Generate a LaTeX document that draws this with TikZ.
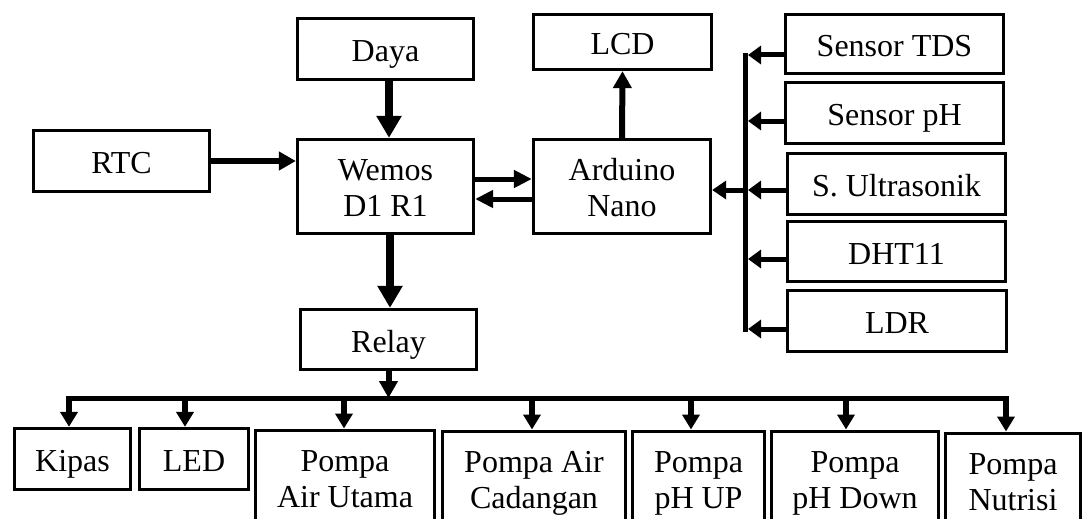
\documentclass[tikz,border=0pt]{standalone}
\usepackage{fontspec}
\setmainfont{Liberation Serif}
\usetikzlibrary{arrows.meta}
\begin{document}
\begin{tikzpicture}[x=1pt,y=-1pt,
  box/.style={draw,line width=3.3pt,inner sep=0pt,font=\fontsize{32}{36}\selectfont,text height=25pt,text depth=0pt},
  two/.style={text height=23pt,text depth=36pt},
  pump/.style={box,two,anchor=north,minimum height=95pt},
  athick/.style={line width=8pt,-{Triangle[length=22pt,width=24pt]}},
  amid/.style={line width=6pt,-{Triangle[length=17pt,width=18pt]}},
  athin/.style={line width=5pt,-{Triangle[length=18pt,width=17pt]}},
  asens/.style={line width=5pt,-{Triangle[length=13pt,width=18pt]}},
  adrop/.style={line width=6pt,-{Triangle[length=15pt,width=17pt]}},
  busline/.style={line width=5pt}
]
\useasboundingbox (0,0) rectangle (1089,519);
\clip (0,0) rectangle (1089,519);

% top row
\node[box,minimum width=176pt,minimum height=61pt] (daya) at (385.5,49) {Daya};
\node[box,minimum width=176pt,minimum height=61pt] (rtc) at (121.5,161) {RTC};
\node[box,two,minimum width=176pt,minimum height=94pt] (wemos) at (385.5,186.5)
  {\begin{tabular}[t]{@{}c@{}}Wemos\\D1 R1\end{tabular}};
\node[box,minimum width=178pt,minimum height=55pt] (lcd) at (622.5,42) {LCD};
\node[box,two,minimum width=177pt,minimum height=94pt] (nano) at (622,186.5)
  {\begin{tabular}[t]{@{}c@{}}Arduino\\Nano\end{tabular}};

% sensors
\node[box,minimum width=218pt,minimum height=59pt] (tds) at (894.5,44) {Sensor TDS};
\node[box,minimum width=218pt,minimum height=61pt] (ph) at (894.5,113) {Sensor pH};
\node[box,minimum width=218pt,minimum height=61pt] (ultra) at (896.5,184) {S. Ultrasonik};
\node[box,minimum width=218pt,minimum height=60pt] (dht) at (896.5,251.5) {DHT11};
\node[box,minimum width=219pt,minimum height=61pt] (ldr) at (897,321) {LDR};

% relay and outputs
\node[box,minimum width=176pt,minimum height=60pt] (relay) at (388.5,339.5) {Relay};
\node[box,minimum width=116pt,minimum height=61pt] (kipas) at (72.5,459) {Kipas};
\node[box,minimum width=109pt,minimum height=61pt] (led) at (194,459) {LED};
\node[pump,minimum width=179pt] (utama) at (345,428.5)
  {\begin{tabular}[t]{@{}c@{}}Pompa\\Air Utama\end{tabular}};
\node[pump,minimum width=183pt] (cadangan) at (534,429.5)
  {\begin{tabular}[t]{@{}c@{}}Pompa Air\\Cadangan\end{tabular}};
\node[pump,minimum width=132pt] (phup) at (698.5,429.5)
  {\begin{tabular}[t]{@{}c@{}}Pompa\\pH UP\end{tabular}};
\node[pump,minimum width=167pt] (phdown) at (855,429.5)
  {\begin{tabular}[t]{@{}c@{}}Pompa\\pH Down\end{tabular}};
\node[pump,minimum width=135pt] (nutrisi) at (1013,431.5)
  {\begin{tabular}[t]{@{}c@{}}Pompa\\Nutrisi\end{tabular}};

% connectors: top part
\draw[amid] (rtc.east) -- (rtc.east -| wemos.west);
\draw[athick] ([xshift=3.5pt]daya.south) -- ([xshift=3.5pt]wemos.north);
\draw[athick] ([xshift=4.5pt]wemos.south) -- ([xshift=1.5pt]relay.north);
\draw[athin] ([yshift=7.5pt]wemos.east) -- ([yshift=7.5pt]nano.west);
\draw[athin] ([yshift=-12.5pt]nano.west) -- ([yshift=-12.5pt]wemos.east);
\draw[amid] (nano.north) -- (lcd.south);

% sensor bus
\coordinate (sbt) at (745,53);
\coordinate (sbb) at (745,331.5);
\coordinate (sbh) at (748,0);
\coordinate (sbu) at (745,190);
\draw[busline] (sbt) -- (sbb);
\coordinate (s1) at ([yshift=-11pt]tds.west);
\coordinate (s2) at ([yshift=-8pt]ph.west);
\coordinate (s3) at ([yshift=-6pt]ultra.west);
\coordinate (s4) at ([yshift=-7.5pt]dht.west);
\coordinate (s5) at ([yshift=-8pt]ldr.west);
\draw[asens] (s1) -- (s1 -| sbh);
\draw[asens] (s2) -- (s2 -| sbh);
\draw[asens] (s3) -- (s3 -| sbh);
\draw[asens] (s4) -- (s4 -| sbh);
\draw[asens] (s5) -- (s5 -| sbh);
\draw[line width=5pt,-{Triangle[length=14pt,width=18pt]}] (sbu) -- (sbu -| nano.east);

% output bus
\coordinate (rb) at (388.5,398);
\coordinate (bl) at (66,398);
\coordinate (br) at (1009,398);
\coordinate (d1) at (69,398);
\coordinate (d2) at (185,398);
\coordinate (d3) at (344,398);
\coordinate (d4) at (532,398);
\coordinate (d5) at (691,398);
\coordinate (d6) at (846,398);
\coordinate (d7) at (1006,398);
\draw[amid] (relay.south) -- (rb);
\draw[busline] (bl) -- (br);
\draw[adrop] (d1) -- (d1 |- kipas.north);
\draw[adrop] (d2) -- (d2 |- led.north);
\draw[adrop] (d3) -- (d3 |- utama.north);
\draw[adrop] (d4) -- (d4 |- cadangan.north);
\draw[adrop] (d5) -- (d5 |- phup.north);
\draw[adrop] (d6) -- (d6 |- phdown.north);
\draw[adrop] (d7) -- (d7 |- nutrisi.north);
\end{tikzpicture}
\end{document}
